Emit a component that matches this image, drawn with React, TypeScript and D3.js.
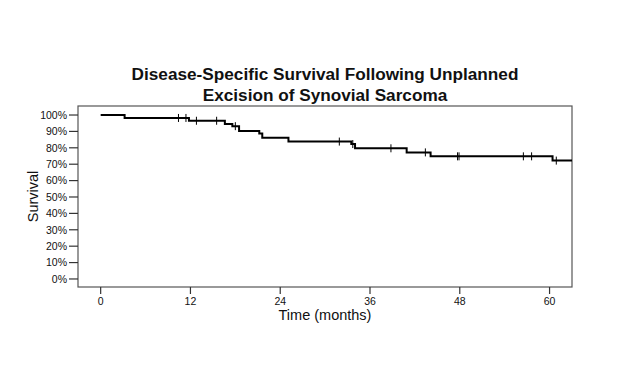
import React from "react";
import * as d3 from "d3";

// step survival estimates (months, proportion surviving)
const eventTimes = [0, 3.2, 11.8, 16.6, 17.6, 18.5, 21.2, 21.6, 25.1, 33.5, 34.0, 40.9, 44.1, 60.4];
const survival = [1.0, 0.982, 0.965, 0.945, 0.932, 0.903, 0.888, 0.862, 0.838, 0.823, 0.797, 0.772, 0.748, 0.722];
const censorTimes = [10.4, 11.4, 12.8, 15.5, 18.0, 31.9, 33.7, 38.8, 43.4, 47.7, 47.9, 56.5, 57.6, 60.9];
const lastFollowUp = 63;

const xTicks = [0, 12, 24, 36, 48, 60];
const yTicks = [0, 0.1, 0.2, 0.3, 0.4, 0.5, 0.6, 0.7, 0.8, 0.9, 1.0];
const titleLines = ["Disease-Specific Survival Following Unplanned", "Excision of Synovial Sarcoma"];

const W = 624;
const H = 374;
const left = 78, right = 572, top = 106, bottom = 287;

export default function App() {
  const x = d3.scaleLinear().domain([-3.03, 63]).range([left, right]);
  const y = d3.scaleLinear().domain([-0.049, 1.055]).range([bottom, top]);

  const pts: [number, number][] = eventTimes.map((t, i) => [t, survival[i]]);
  pts.push([lastFollowUp, survival[survival.length - 1]]);
  const line = d3.line<[number, number]>()
    .x(d => x(d[0]))
    .y(d => y(d[1]))
    .curve(d3.curveStepAfter);

  const survAt = (t: number) => {
    let s = survival[0];
    eventTimes.forEach((et, i) => { if (et <= t) s = survival[i]; });
    return s;
  };

  const font = "Liberation Sans, Arial, sans-serif";

  return (
    <svg width={W} height={H} style={{ position: "absolute", left: 0, top: 0 }}>
      <rect width={W} height={H} fill="white" />
      {titleLines.map((l, i) => (
        <text key={i} x={325} y={80 + i * 20.5} textAnchor="middle" fontFamily={font}
          fontWeight="bold" fontSize={17.2} fill="#111">{l}</text>
      ))}
      <rect x={left} y={top} width={right - left} height={bottom - top} fill="none" stroke="#555" strokeWidth={1.2} />
      {yTicks.map(t => (
        <g key={t}>
          <line x1={left - 9} x2={left} y1={y(t)} y2={y(t)} stroke="#333" strokeWidth={1.2} />
          <text x={left - 11} y={y(t) + 3.8} textAnchor="end" fontFamily={font} fontSize={10.5} fill="#111">
            {d3.format(".0%")(t)}
          </text>
        </g>
      ))}
      {xTicks.map(t => (
        <g key={t}>
          <line x1={x(t)} x2={x(t)} y1={bottom} y2={bottom + 7} stroke="#333" strokeWidth={1.2} />
          <text x={x(t)} y={305} textAnchor="middle" fontFamily={font} fontSize={10.5} fill="#111">{t}</text>
        </g>
      ))}
      <text x={325} y={320} textAnchor="middle" fontFamily={font} fontSize={14.5} fill="#111">Time (months)</text>
      <text transform={`translate(38,${(top + bottom) / 2}) rotate(-90)`} textAnchor="middle"
        fontFamily={font} fontSize={14.5} fill="#111">Survival</text>
      <path d={line(pts) ?? ""} fill="none" stroke="#000" strokeWidth={2} />
      {censorTimes.map((t, i) => (
        <line key={i} x1={x(t)} x2={x(t)} y1={y(survAt(t)) - 4} y2={y(survAt(t)) + 4} stroke="#000" strokeWidth={1} />
      ))}
    </svg>
  );
}
